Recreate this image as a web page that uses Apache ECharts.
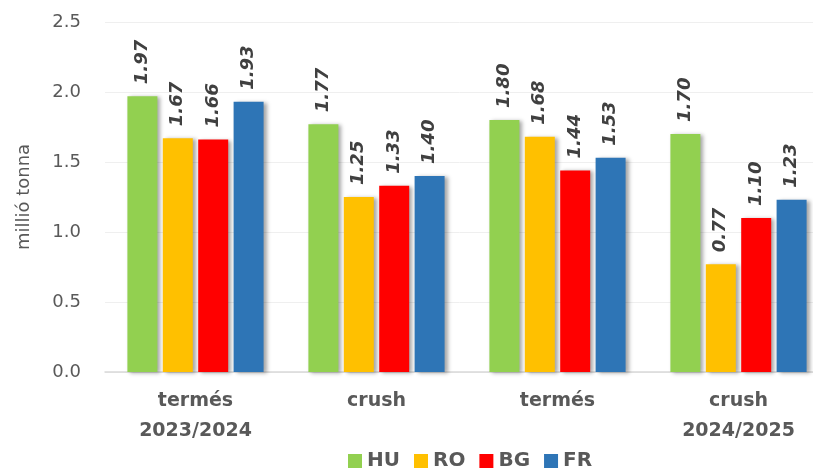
<!DOCTYPE html>
<html>
<head>
<meta charset="utf-8">
<script src="https://cdn.jsdelivr.net/npm/echarts@6/dist/echarts.min.js"></script>
<style>
  html, body { margin: 0; padding: 0; background: #fff; }
  #chart { width: 813px; height: 471px; }
</style>
</head>
<body>
<div id="chart"></div>
<script>
const categories = ['termés\n2023/2024', 'crush', 'termés', 'crush\n2024/2025']
const seriesNames = ['HU', 'RO', 'BG', 'FR']
const colors = ['#92d050', '#ffc000', '#ff0000', '#2e75b6']
const huValues = [1.97, 1.77, 1.80, 1.70]
const roValues = [1.67, 1.25, 1.68, 0.77]
const bgValues = [1.66, 1.33, 1.44, 1.10]
const frValues = [1.93, 1.40, 1.53, 1.23]
const values = [huValues, roValues, bgValues, frValues]

const chart = echarts.init(document.getElementById('chart'))

const series = seriesNames.map((name, i) => ({
  name: name,
  type: 'bar',
  data: values[i],
  barWidth: 30,
  barGap: '18%',
  itemStyle: {
    color: colors[i],
    shadowColor: 'rgba(0,0,0,0.35)',
    shadowBlur: 4,
    shadowOffsetX: 3,
    shadowOffsetY: 1,
  },
  label: {
    show: true,
    position: 'top',
    rotate: 90,
    align: 'left',
    verticalAlign: 'middle',
    distance: 12,
    formatter: (p) => p.value.toFixed(2),
    color: '#404040',
    fontSize: 18,
    fontWeight: 'bold',
    fontStyle: 'italic',
    fontFamily: 'DejaVu Sans',
  },
}))

chart.setOption({
  animation: false,
  grid: { left: 105, top: 22, width: 724, height: 350, outerBoundsMode: 'none' },
  legend: {
    top: 446,
    left: 343,
    itemWidth: 14,
    itemHeight: 14,
    itemGap: 14,
    icon: 'rect',
    textStyle: { fontSize: 20, fontWeight: 'bold', color: '#595959', fontFamily: 'DejaVu Sans' },
    data: seriesNames,
  },
  xAxis: {
    type: 'category',
    data: categories,
    axisLine: { lineStyle: { color: '#d9d9d9', width: 1.5 } },
    axisTick: { show: false },
    axisLabel: {
      color: '#595959',
      fontSize: 19,
      fontWeight: 'bold',
      lineHeight: 30,
      margin: 14,
      fontFamily: 'DejaVu Sans',
    },
  },
  yAxis: {
    type: 'value',
    min: 0,
    max: 2.5,
    interval: 0.5,
    name: 'millió tonna',
    nameLocation: 'middle',
    nameGap: 72,
    nameRotate: 90,
    nameTextStyle: { color: '#595959', fontSize: 18, fontFamily: 'DejaVu Sans' },
    axisLine: { show: false },
    axisTick: { show: false },
    splitLine: { lineStyle: { color: '#efefef' } },
    axisLabel: {
      formatter: (v) => v.toFixed(1),
      color: '#595959',
      fontSize: 18,
      margin: 24,
      fontFamily: 'DejaVu Sans',
    },
  },
  series: series,
})
</script>
</body>
</html>
